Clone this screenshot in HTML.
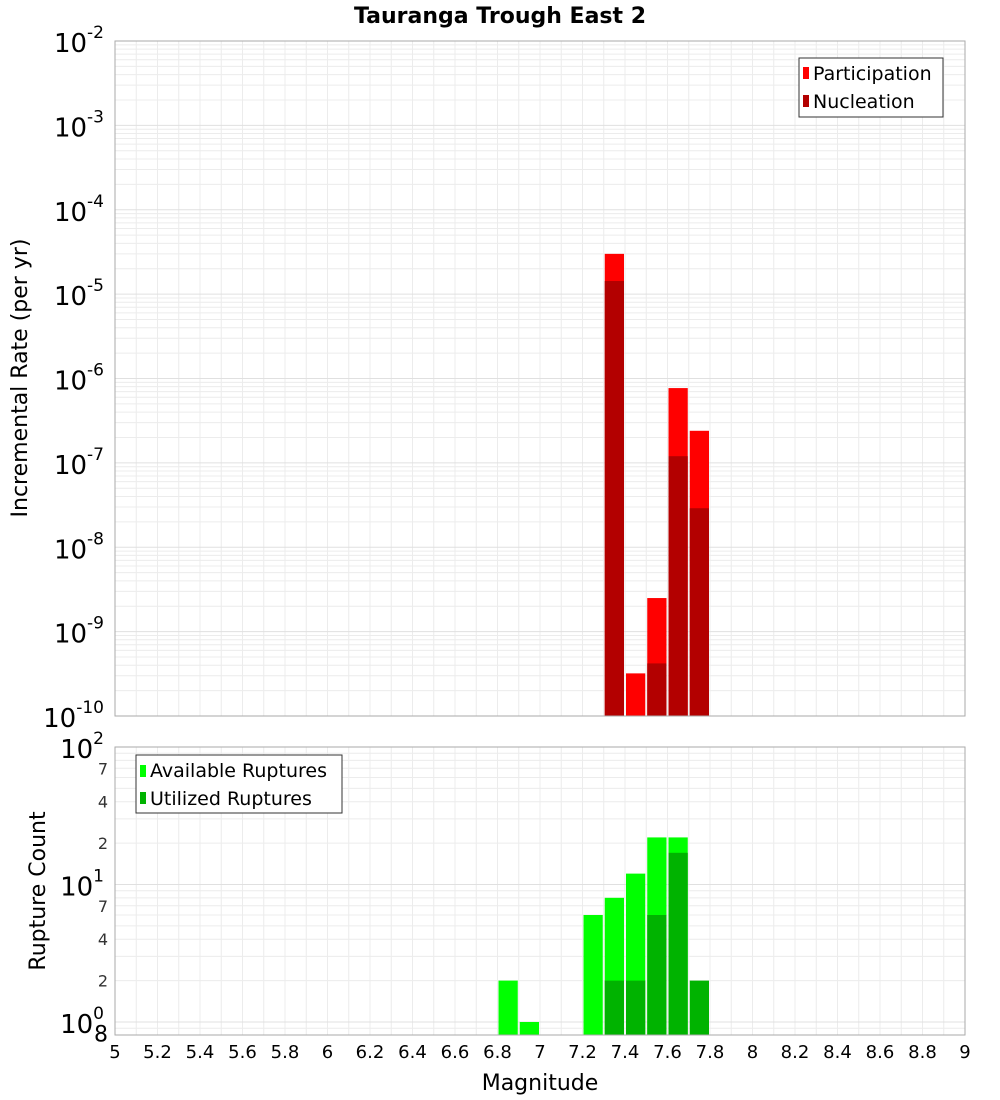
<!DOCTYPE html>
<html><head><meta charset="utf-8"><style>
body{margin:0;background:#fff;font-family:"Liberation Sans","DejaVu Sans",sans-serif}
svg{display:block}
</style></head><body>
<svg id="c" width="1000" height="1100" xmlns="http://www.w3.org/2000/svg">
<text x="500" y="23" text-anchor="middle" font-size="22" font-weight="bold" font-family="DejaVu Sans, sans-serif">Tauranga Trough East 2</text>
<text transform="translate(27,378) rotate(-90)" text-anchor="middle" font-size="22" font-family="DejaVu Sans, sans-serif">Incremental Rate (per yr)</text>
<text transform="translate(45,891) rotate(-90)" text-anchor="middle" font-size="22" font-family="DejaVu Sans, sans-serif">Rupture Count</text>
<text x="540" y="1090" text-anchor="middle" font-size="22" font-family="DejaVu Sans, sans-serif">Magnitude</text>
<g id="topg"></g><g id="botg"></g>
</svg>
<script>
const mags = [7.35, 7.45, 7.55, 7.65, 7.75];
const participation = [3.0e-5, 3.2e-10, 2.5e-9, 7.7e-7, 2.4e-7];
const nucleation = [1.43e-5, 0, 4.2e-10, 1.2e-7, 2.9e-8];
const countMags = [6.85, 6.95, 7.25, 7.35, 7.45, 7.55, 7.65, 7.75];
const available = [2, 1, 6, 8, 12, 22, 22, 0];
const utilized = [0, 0, 0, 2, 2, 6, 17, 2];
const xTicks = ["5","5.2","5.4","5.6","5.8","6","6.2","6.4","6.6","6.8","7","7.2","7.4","7.6","7.8","8","8.2","8.4","8.6","8.8","9"];

const NS="http://www.w3.org/2000/svg";
const L=115,R=965;
const xs=m=>L+(m-5)*(R-L)/4;
const T1=41,B1=716, yTop=v=>T1+(-2-Math.log10(v))*(B1-T1)/8;
const T2=747, yBot=v=>T2+(2-Math.log10(v))*137.5;
const B2=1035;
function mk(p,tag,a,txt){const e=document.createElementNS(NS,tag);for(const k in a)e.setAttribute(k,a[k]);if(txt!==undefined)e.textContent=txt;p.appendChild(e);return e;}
const gTop=document.getElementById('topg'), gBot=document.getElementById('botg');
function grid(g,T,B,yf,dmin,dmax,name){
  for(let i=0;i<=40;i++){const m=5+i*0.1;const e=mk(g,'line',{x1:xs(m),x2:xs(m),y1:T,y2:B,stroke:'#ececec','stroke-width':1});
  
  }
  for(let d=dmin;d<dmax;d++)for(let k=1;k<10;k++){const y=yf(k*Math.pow(10,d));if(y<T||y>B)continue;
    const e=mk(g,'line',{x1:L,x2:R,y1:y,y2:y,stroke:k==1?'#e0e0e0':'#ececec','stroke-width':1});
    
    }
}
grid(gTop,T1,B1,yTop,-10,-1,'top');
grid(gBot,T2,B2,yBot,-1,2,'bottom');
mags.forEach((m,i)=>{
  const x0=xs(m-0.05)+1,w=xs(m+0.05)-xs(m-0.05)-2;
  if(participation[i]>0){const y=yTop(participation[i]);const r=mk(gTop,'rect',{x:x0,y:y,width:w,height:B1-y,fill:'#ff0000'});
    
    }
  if(nucleation[i]>0){const y=yTop(nucleation[i]);const r=mk(gTop,'rect',{x:x0,y:y,width:w,height:B1-y,fill:'#b30000'});
    
    }
});
countMags.forEach((m,i)=>{
  const x0=xs(m-0.05)+1,w=xs(m+0.05)-xs(m-0.05)-2;
  if(available[i]>0){const y=yBot(available[i]);const r=mk(gBot,'rect',{x:x0,y:y,width:w,height:B2-y,fill:'#00ff00'});
    
    }
  if(utilized[i]>0){const y=yBot(utilized[i]);const r=mk(gBot,'rect',{x:x0,y:y,width:w,height:B2-y,fill:'#00b300'});
    
    }
});
let b=mk(gTop,'rect',{x:L,y:T1,width:R-L,height:B1-T1,fill:'none',stroke:'#aaa'});


b=mk(gBot,'rect',{x:L,y:T2,width:R-L,height:B2-T2,fill:'none',stroke:'#aaa'});


for(let d=-10;d<=-2;d++){const y=yTop(Math.pow(10,d));
  const t=mk(gTop,'text',{x:104,y:y+11,'text-anchor':'end','font-size':26,'font-family':'DejaVu Sans, sans-serif'});
  
  
  t.innerHTML='10<tspan dy="-14" font-size="17">'+d+'</tspan>';}
[[2,'2'],[1,'1'],[0,'0']].forEach(([d,s])=>{const y=yBot(Math.pow(10,d));
  const t=mk(gBot,'text',{x:104,y:y+11,'text-anchor':'end','font-size':26,'font-family':'DejaVu Sans, sans-serif'});
  
  
  t.innerHTML='10<tspan dy="-14" font-size="17">'+s+'</tspan>';});
[[70,'7'],[40,'4'],[20,'2'],[7,'7'],[4,'4'],[2,'2'],[0.8,'8']].forEach(([v,s])=>{const y=yBot(v);
  const t=mk(gBot,'text',{x:108,y:y+6,'text-anchor':'end','font-size':v==0.8?22:16,'font-family':'DejaVu Sans, sans-serif',fill:v==0.8?'#000':'#333'},s);
  
  });
xTicks.forEach(s=>{const t=mk(gBot,'text',{x:xs(+s),y:1058,'text-anchor':'middle','font-size':18,'font-family':'DejaVu Sans, sans-serif'},s);
  
  });
</script>
<svg style="position:absolute;left:0;top:0" width="1000" height="1100" xmlns="http://www.w3.org/2000/svg">
<g font-family="DejaVu Sans, sans-serif" font-size="19">
<rect x="799" y="58" width="144" height="59" fill="#fff" stroke="#333"/>
<rect x="803" y="67" width="6" height="12" fill="#ff0000"/><text x="813" y="80">Participation</text>
<rect x="803" y="95" width="6" height="12" fill="#b30000"/><text x="813" y="108">Nucleation</text>
</g>
<g font-family="DejaVu Sans, sans-serif" font-size="19">
<rect x="136" y="755" width="206" height="58" fill="#fff" stroke="#333"/>
<rect x="140" y="765" width="6" height="12" fill="#00ff00"/><text x="150" y="777">Available Ruptures</text>
<rect x="140" y="792" width="6" height="12" fill="#00b300"/><text x="150" y="805">Utilized Ruptures</text>
</g>
</svg>
</body></html>
